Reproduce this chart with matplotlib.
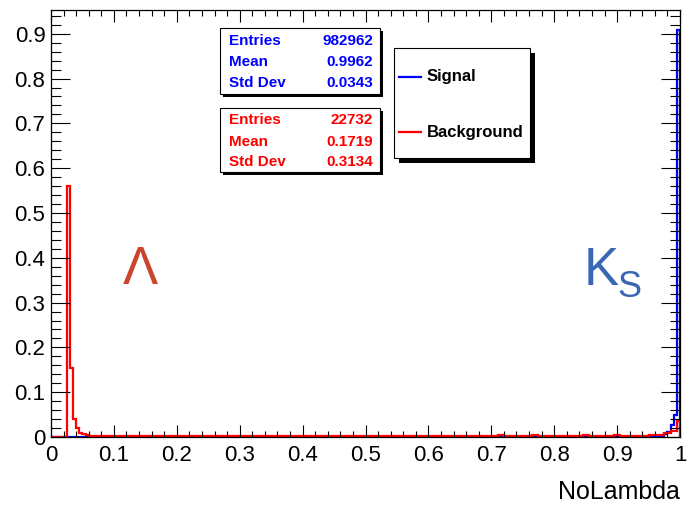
import numpy as np
import matplotlib
matplotlib.use("Agg")
import matplotlib.pyplot as plt
from matplotlib.patches import Rectangle
from matplotlib.lines import Line2D
from matplotlib.ticker import MultipleLocator, FixedLocator

# ===========================
# DATA
# ===========================
# background (red) histogram, bin edges + contents
bkg_edges = [0.0, 0.025, 0.03, 0.035, 0.04, 0.045, 0.05, 0.055, 0.06, 0.07,
             0.10, 0.71, 0.72, 0.765, 0.775, 0.845, 0.855, 0.895, 0.905,
             0.95, 0.96, 0.975, 0.98, 0.985, 0.99, 0.995, 1.0]
bkg_vals = [0.0, 0.56, 0.155, 0.041, 0.019, 0.009, 0.006, 0.004, 0.003,
            0.0025, 0.002, 0.004, 0.002, 0.004, 0.002, 0.004, 0.002, 0.004,
            0.002, 0.004, 0.005, 0.008, 0.010, 0.014, 0.014, 0.036]

# signal (blue) histogram
sig_edges = [0.0, 0.025, 0.975, 0.98, 0.985, 0.99, 0.995, 1.0]
sig_vals = [0.0, 0.0008, 0.006, 0.012, 0.027, 0.049, 0.908]

sig_stats = [("Entries", "982962"), ("Mean", "0.9962"), ("Std Dev", "0.0343")]
bkg_stats = [("Entries", "22732"), ("Mean", "0.1719"), ("Std Dev", "0.3134")]

x_ticks = [0, 0.1, 0.2, 0.3, 0.4, 0.5, 0.6, 0.7, 0.8, 0.9, 1.0]
x_ticklabels = ["0", "0.1", "0.2", "0.3", "0.4", "0.5", "0.6", "0.7", "0.8", "0.9", "1"]
y_ticks = [0, 0.1, 0.2, 0.3, 0.4, 0.5, 0.6, 0.7, 0.8, 0.9]
y_ticklabels = ["0", "0.1", "0.2", "0.3", "0.4", "0.5", "0.6", "0.7", "0.8", "0.9"]

# ===========================
# FIGURE
# ===========================
W, H = 687, 508
plt.rcParams["font.family"] = ["Liberation Sans", "DejaVu Sans"]

fig = plt.figure(figsize=(W / 100, H / 100), dpi=100)


def fx(px):
    return px / W


def fy(py):
    return 1 - py / H


ax = fig.add_axes([fx(51), fy(437), (680 - 51) / W, (437 - 10) / H])

ax.stairs(sig_vals, sig_edges, color="#0000ff", lw=1.6, baseline=0)
ax.stairs(bkg_vals, bkg_edges, color="#ff0000", lw=1.6, baseline=0)

ax.set_xlim(0, 1)
ax.set_ylim(0, 0.953)

ax.xaxis.set_major_locator(FixedLocator(x_ticks))
ax.set_xticklabels(x_ticklabels)
ax.xaxis.set_minor_locator(MultipleLocator(0.02))
ax.yaxis.set_major_locator(FixedLocator(y_ticks))
ax.set_yticklabels(y_ticklabels)
ax.yaxis.set_minor_locator(MultipleLocator(0.02))

ax.tick_params(axis="both", which="both", direction="in", top=True, right=True,
               width=0.8, labelsize=16)
ax.tick_params(axis="x", which="major", length=8.6, pad=6)
ax.tick_params(axis="x", which="minor", length=4)
ax.tick_params(axis="y", which="major", length=13.7, pad=4)
ax.tick_params(axis="y", which="minor", length=7)
for s in ax.spines.values():
    s.set_linewidth(0.9)

ax.set_xlabel("NoLambda", fontsize=18, loc="right", labelpad=10)

# ===========================
# STAT BOXES + LEGEND
# ===========================
def box(x0, y0, x1, y1, shadow):
    fig.add_artist(Rectangle((fx(x0 + shadow), fy(y1 + shadow)), fx(x1 - x0), (y1 - y0) / H,
                             transform=fig.transFigure, facecolor="black", edgecolor="none"))
    fig.add_artist(Rectangle((fx(x0), fy(y1)), fx(x1 - x0), (y1 - y0) / H,
                             transform=fig.transFigure, facecolor="white",
                             edgecolor="black", lw=0.8))


def stats(rows, y_rows, color):
    for (k, v), yy in zip(rows, y_rows):
        fig.text(fx(229), fy(yy), k, color=color, fontsize=11, fontweight="bold",
                 ha="left", va="center")
        fig.text(fx(373), fy(yy), v, color=color, fontsize=11, fontweight="bold",
                 ha="right", va="center")


box(220, 28, 380, 94, 3)
stats(sig_stats, [41, 62.5, 83], "#0000ff")
box(220, 108, 380, 172, 3)
stats(bkg_stats, [120, 141.5, 162], "#ff0000")

box(394, 48, 530, 158, 5)
for yy, col, lab in [(76.5, "#0000ff", "Signal"), (132, "#ff0000", "Background")]:
    fig.add_artist(Line2D([fx(399), fx(421)], [fy(yy), fy(yy)], color=col, lw=1.6,
                          transform=fig.transFigure))
    fig.text(fx(427), fy(yy), lab, fontsize=12, fontweight="bold", ha="left", va="center")

# particle labels
fig.text(fx(140), fy(284), "\u039b", color="#c9452b", fontsize=38, ha="center", va="baseline")
fig.text(fx(584), fy(285), "K", color="#3a67b4", fontsize=38, ha="left", va="baseline")
fig.text(fx(617), fy(297), "S", color="#3a67b4", fontsize=26, ha="left", va="baseline")

fig.savefig("out.png", dpi=100)
